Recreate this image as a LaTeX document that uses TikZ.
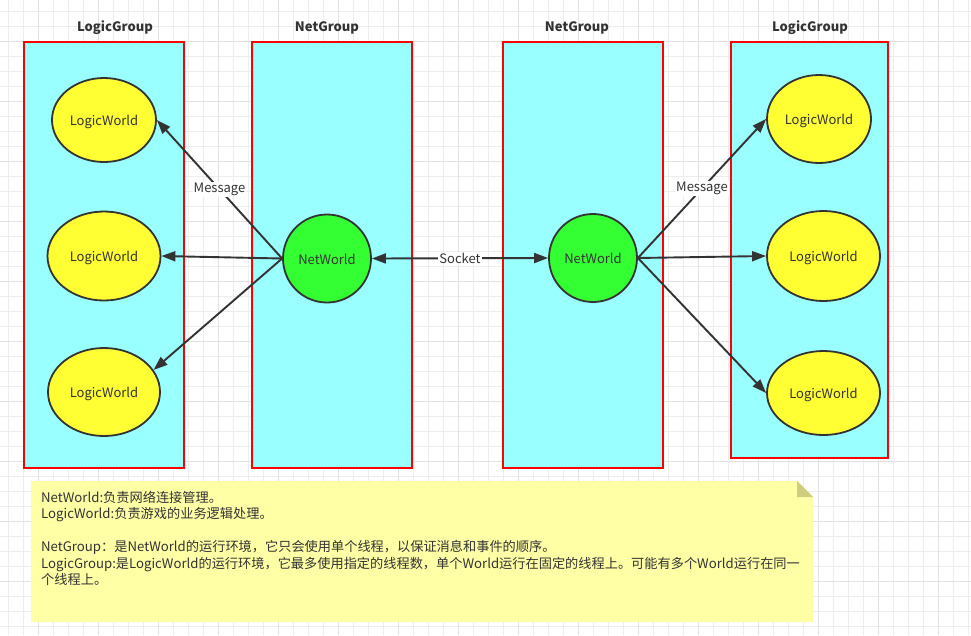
\documentclass[tikz,border=0pt]{standalone}
\usepackage{fontspec}
\setmainfont{Noto Sans CJK SC}
\usetikzlibrary{shapes.geometric,arrows.meta,positioning}

\definecolor{groupfill}{HTML}{99FFFF}
\definecolor{groupline}{HTML}{FF0000}
\definecolor{logicfill}{HTML}{FFFF33}
\definecolor{netfill}{HTML}{33FF33}
\definecolor{inkdark}{HTML}{333333}
\definecolor{notefill}{HTML}{FFFFA6}
\definecolor{notefold}{HTML}{CECE7C}
\definecolor{minorgrid}{HTML}{EDEDED}
\definecolor{majorgrid}{HTML}{E2E2E2}

\tikzstyle{minorline} = [draw=minorgrid, line width=1pt]
\tikzstyle{majorline} = [draw=majorgrid, line width=1pt]
\tikzstyle{group} = [draw=groupline, fill=groupfill, line width=2pt, rectangle, minimum width=160pt, inner sep=0pt]
\tikzstyle{title} = [text=inkdark, font=\fontsize{13}{15}\selectfont\bfseries]
\tikzstyle{logic} = [draw=inkdark, fill=logicfill, line width=1.8pt, ellipse, inner sep=0pt, text height=13pt, text depth=2pt, text=inkdark, font=\fontsize{13}{15}\selectfont]
\tikzstyle{net} = [draw=inkdark, fill=netfill, line width=1.8pt, circle, minimum size=88pt, inner sep=0pt, text height=13pt, text depth=2pt, text=inkdark, font=\fontsize{13}{15}\selectfont]
\tikzstyle{arrow} = [draw=inkdark, line width=1.9pt, -{Triangle[length=14pt,width=10pt]}]
\tikzstyle{tag} = [fill=white, inner sep=1pt, text=inkdark, font=\fontsize{13}{15}\selectfont]

\begin{document}
\begin{tikzpicture}[x=1pt, y=-1pt, node distance=136pt]
  \useasboundingbox (0,0) rectangle (971,635);
  % grid
  \fill[white] (0,0) rectangle (971,635);
  \foreach \gx in {8,23,...,968} \draw[minorline] (\gx,0) -- (\gx,635);
  \foreach \gy in {11,26,...,626} \draw[minorline] (0,\gy) -- (971,\gy);
  \foreach \gx in {38,98,...,938} \draw[majorline] (\gx,0) -- (\gx,635);
  \foreach \gy in {41,101,...,581} \draw[majorline] (0,\gy) -- (971,\gy);

  % groups
  \node[group, minimum height=426pt] (lg1) at (104,255) {};
  \node[group, minimum height=426pt] (ng1) at (332,255) {};
  \node[group, minimum height=426pt] (ng2) at (582.5,255) {};
  \node[group, minimum width=157pt, minimum height=416pt] (lg2) at (809.5,250) {};
  \node[title] at (115,27.5) {LogicGroup};
  \node[title] at (327,27.5) {NetGroup};
  \node[title] at (577,27.5) {NetGroup};
  \node[title] at (810,27.5) {LogicGroup};

  % worlds
  \node[logic, minimum width=104pt, minimum height=84pt] (l1) at (104,120) {LogicWorld};
  \node[logic, minimum width=113pt, minimum height=89pt, below of=l1] (l2) {LogicWorld};
  \node[logic, minimum width=112pt, minimum height=88pt, below of=l2] (l3) {LogicWorld};
  \node[logic, minimum width=104pt, minimum height=88pt] (r1) at (819,119) {LogicWorld};
  \node[logic, minimum width=113pt, minimum height=90pt] (r2) at (823.5,256) {LogicWorld};
  \node[logic, minimum width=113pt, minimum height=84pt] (r3) at (823.5,393) {LogicWorld};
  \node[net] (nl) at (327,258.5) {NetWorld};
  \node[net] (nr) at (593,258) {NetWorld};

  % links
  \draw[arrow] (nl.west) -- node[tag] {Message} (l1.east);
  \draw[arrow] (nl.west) -- (l2.east);
  \draw[arrow] (nl.west) -- (l3.24);
  \draw[arrow, {Triangle[length=14pt,width=10pt]}-{Triangle[length=14pt,width=10pt]}] (nl.east) -- node[tag] {Socket} (nr.west);
  \draw[arrow] (nr.east) -- node[tag] {Message} (r1.west);
  \draw[arrow] (nr.east) -- (r2.west);
  \draw[arrow] (nr.east) -- (r3.west);

  % note
  \fill[notefill] (31,481) -- (797,481) -- (813,497) -- (813,622) -- (31,622) -- cycle;
  \fill[notefold] (797,481) -- (813,497) -- (797,497) -- cycle;
  \node[anchor=north west, align=left, inner sep=0pt, text=inkdark, font=\fontsize{13.2}{16.5}\selectfont] (memo) at (41,491) {NetWorld:负责网络连接管理。\\
    LogicWorld:负责游戏的业务逻辑处理。\\[16.5pt]
    NetGroup：是NetWorld的运行环境，它只会使用单个线程，以保证消息和事件的顺序。\\
    LogicGroup:是LogicWorld的运行环境，它最多使用指定的线程数，单个World运行在固定的线程上。可能有多个World运行在同一\\
    个线程上。};
\end{tikzpicture}
\end{document}
